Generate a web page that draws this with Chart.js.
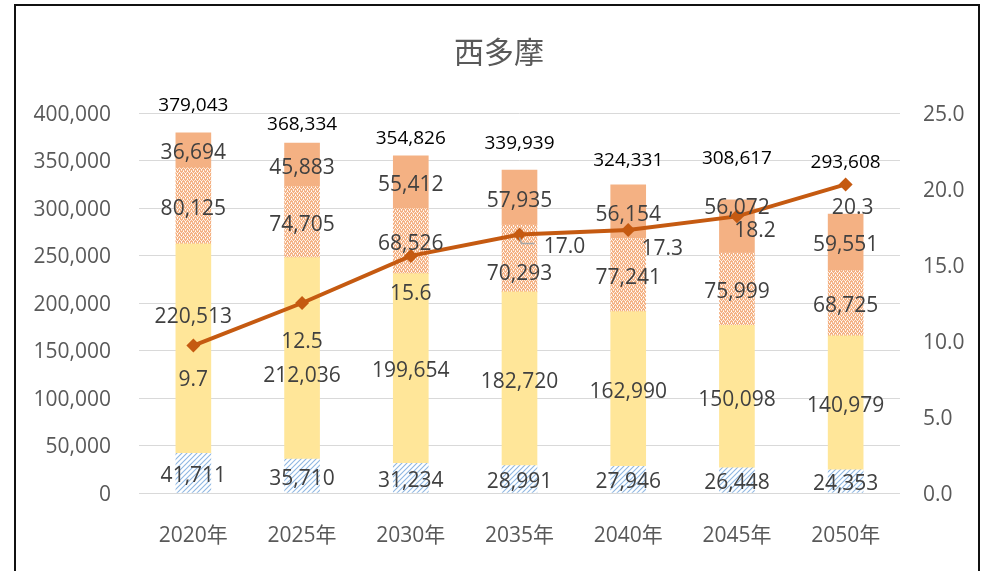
<!DOCTYPE html>
<html>
<head>
<meta charset="utf-8">
<script src="https://cdn.jsdelivr.net/npm/chart.js@4.4.1/dist/chart.umd.min.js"></script>
<style>
  html, body { margin: 0; padding: 0; background: #fff; }
  #wrap { position: relative; width: 987px; height: 571px; overflow: hidden; }
  #frame { position: absolute; left: 14px; top: 4px; width: 966px; height: 600px; border: 2px solid #111; box-sizing: border-box; }
  #chart { position: absolute; left: 0; top: 0; }
</style>
</head>
<body>
<div id="wrap">
  <div id="frame"></div>
  <canvas id="chart" width="987" height="571"></canvas>
</div>
<script>
// Population of 西多摩 by age group, with share of 75+ (%)
const years = ['2020年', '2025年', '2030年', '2035年', '2040年', '2045年', '2050年'];
const age0to14 = [41711, 35710, 31234, 28991, 27946, 26448, 24353];
const age15to64 = [220513, 212036, 199654, 182720, 162990, 150098, 140979];
const age65to74 = [80125, 74705, 68526, 70293, 77241, 75999, 68725];
const age75plus = [36694, 45883, 55412, 57935, 56154, 56072, 59551];
const totals = [379043, 368334, 354826, 339939, 324331, 308617, 293608];
const ratio75 = [9.7, 12.5, 15.6, 17.0, 17.3, 18.2, 20.3];

const leftTicks = [0, 50000, 100000, 150000, 200000, 250000, 300000, 350000, 400000];
const rightTicks = [0, 5, 10, 15, 20, 25];

const FONT = "'Open Sans', 'Noto Sans CJK JP', sans-serif";
const TEXT = '#404040';
const AXIS_TEXT = '#595959';

// fill patterns
function hatchPattern() {
  const c = document.createElement('canvas');
  c.width = 5; c.height = 5;
  const g = c.getContext('2d');
  g.fillStyle = '#fff';
  g.fillRect(0, 0, 5, 5);
  g.strokeStyle = '#8fb7e2';
  g.lineWidth = 1.1;
  g.beginPath();
  g.moveTo(-1, 6); g.lineTo(6, -1);
  g.moveTo(-1, 1); g.lineTo(1, -1);
  g.moveTo(4, 6); g.lineTo(6, 4);
  g.stroke();
  return g.createPattern(c, 'repeat');
}

function checkerPattern() {
  const c = document.createElement('canvas');
  c.width = 4; c.height = 4;
  const g = c.getContext('2d');
  g.fillStyle = '#f4b183';
  g.fillRect(0, 0, 4, 4);
  g.fillStyle = '#fdebdd';
  g.fillRect(0, 0, 1, 1);
  g.fillRect(2, 0, 1, 1);
  g.fillRect(1, 2, 1, 1);
  g.fillRect(3, 2, 1, 1);
  g.fillStyle = '#ffffff';
  g.fillRect(1, 1, 1, 1);
  g.fillRect(3, 3, 1, 1);
  return g.createPattern(c, 'repeat');
}

// manual label nudges (px), as hand-placed in the original
const segNudge = { 1: { 0: -35, 1: 15 }, 2: { 3: 13 }, 3: { 5: -21 } };
const totalLift = [27, 18, 17, 26, 24, 41, 51];
const lineLabelOffset = [[0, 34], [0, 39], [0, 38], [45, 12], [34, 19], [18, 15], [7, 24]];

const labelPlugin = {
  id: 'valueLabels',
  afterDatasetsDraw(chart) {
    const ctx = chart.ctx;
    ctx.save();
    ctx.textAlign = 'center';
    ctx.textBaseline = 'middle';

    // stacked segment labels (datasets 1..4)
    ctx.font = '21px ' + FONT;
    ctx.fillStyle = TEXT;
    for (let d = 1; d <= 4; d++) {
      const meta = chart.getDatasetMeta(d);
      const values = chart.data.datasets[d].data;
      meta.data.forEach((bar, i) => {
        const p = bar.getProps(['x', 'y', 'base'], true);
        const n = (segNudge[d - 1] && segNudge[d - 1][i]) || 0;
        ctx.fillText(values[i].toLocaleString('en-US'), p.x, (p.y + p.base) / 2 + 3 + n);
      });
    }

    // totals above each bar
    ctx.font = '19px ' + FONT;
    ctx.fillStyle = '#000';
    const topMeta = chart.getDatasetMeta(4);
    topMeta.data.forEach((bar, i) => {
      const p = bar.getProps(['x', 'y'], true);
      ctx.fillText(totals[i].toLocaleString('en-US'), p.x, p.y - totalLift[i]);
    });

    // ratio labels
    ctx.font = '21px ' + FONT;
    ctx.fillStyle = TEXT;
    const lineMeta = chart.getDatasetMeta(0);
    lineMeta.data.forEach((pt, i) => {
      const [dx, dy] = lineLabelOffset[i];
      ctx.fillText(ratio75[i].toFixed(1), pt.x + dx, pt.y + dy);
      if (i === 3) {
        // leader line
        ctx.strokeStyle = '#a6a6a6';
        ctx.lineWidth = 1.5;
        ctx.beginPath();
        ctx.moveTo(pt.x, pt.y + 3);
        ctx.lineTo(pt.x + 2, pt.y + 9);
        ctx.lineTo(pt.x + 15, pt.y + 9);
        ctx.stroke();
      }
    });

    // title
    ctx.font = '30px ' + FONT;
    ctx.fillStyle = AXIS_TEXT;
    ctx.fillText('西多摩', 499, 54);
    ctx.restore();
  }
};

const barBase = {
  type: 'bar',
  yAxisID: 'y',
  order: 1,
  barThickness: 35,
  borderWidth: 0,
  stack: 'pop'
};

new Chart(document.getElementById('chart'), {
  data: {
    labels: years,
    datasets: [
      {
        type: 'line',
        label: '75歳以上の割合',
        data: ratio75,
        yAxisID: 'y1',
        order: 0,
        borderColor: '#c55a11',
        backgroundColor: '#c55a11',
        borderWidth: 4,
        pointStyle: 'rectRot',
        pointRadius: 7,
        pointBorderWidth: 0,
        tension: 0,
        fill: false
      },
      Object.assign({}, barBase, { label: '0～14歳', data: age0to14, backgroundColor: hatchPattern() }),
      Object.assign({}, barBase, { label: '15～64歳', data: age15to64, backgroundColor: '#ffe699' }),
      Object.assign({}, barBase, { label: '65～74歳', data: age65to74, backgroundColor: checkerPattern() }),
      Object.assign({}, barBase, { label: '75歳以上', data: age75plus, backgroundColor: '#f4b183' })
    ]
  },
  options: {
    responsive: false,
    animation: false,
    layout: { padding: { top: 113, left: 0, right: 0, bottom: 0 } },
    plugins: {
      legend: { display: false },
      title: { display: false },
      tooltip: { enabled: false }
    },
    scales: {
      x: {
        stacked: true,
        grid: { display: false },
        border: { display: false },
        ticks: {
          color: AXIS_TEXT,
          font: { family: FONT, size: 21 },
          padding: 22,
          maxRotation: 0,
          autoSkip: false
        },
        afterFit(scale) { scale.height = 78; }
      },
      y: {
        stacked: true,
        position: 'left',
        min: 0,
        max: 400000,
        afterBuildTicks(scale) { scale.ticks = leftTicks.map(v => ({ value: v })); },
        grid: { color: '#d9d9d9', lineWidth: 1, drawTicks: false },
        border: { display: false },
        ticks: {
          color: AXIS_TEXT,
          font: { family: FONT, size: 21 },
          padding: 28,
          labelOffset: 2,
          callback: v => v.toLocaleString('en-US')
        },
        afterFit(scale) { scale.width = 139; }
      },
      y1: {
        stacked: false,
        position: 'right',
        min: 0,
        max: 25,
        afterBuildTicks(scale) { scale.ticks = rightTicks.map(v => ({ value: v })); },
        grid: { drawOnChartArea: false, drawTicks: false },
        border: { display: false },
        ticks: {
          color: AXIS_TEXT,
          font: { family: FONT, size: 21 },
          padding: 23,
          labelOffset: 2,
          callback: v => Number(v).toFixed(1)
        },
        afterFit(scale) { scale.width = 87; }
      }
    }
  },
  plugins: [labelPlugin]
});
</script>
</body>
</html>
